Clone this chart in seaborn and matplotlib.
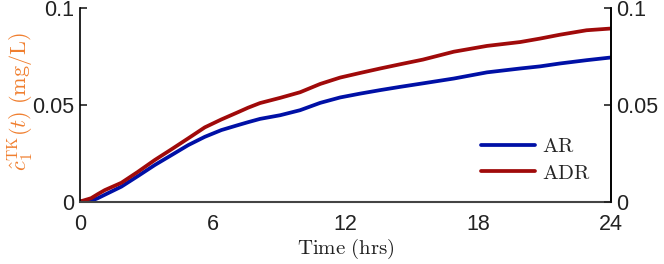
import matplotlib
matplotlib.use("Agg")
import matplotlib.pyplot as plt
import seaborn as sns
import pandas as pd

t = [0, 0.5, 0.8, 1.12, 1.87, 2.62, 3.38, 4.13, 4.89, 5.64, 6.39, 7.15, 7.6, 8.14, 9.05,
     9.95, 10.86, 11.76, 12.67, 13.57, 14.48, 15.5, 16.9, 18.4, 19.9, 20.8, 21.7, 22.9, 24]
ar = [0, 0.0003, 0.0017, 0.0035, 0.0077, 0.0132, 0.0189, 0.024, 0.0292, 0.0335, 0.037,
      0.0396, 0.0411, 0.0428, 0.0447, 0.0473, 0.0511, 0.0539, 0.0559, 0.0577, 0.0594,
      0.0612, 0.0637, 0.0669, 0.0689, 0.0700, 0.0715, 0.0732, 0.0746]
adr = [0, 0.0017, 0.0038, 0.0059, 0.0097, 0.0154, 0.0215, 0.027, 0.0327, 0.0384, 0.0425,
       0.0463, 0.0486, 0.0510, 0.0537, 0.0566, 0.0609, 0.0642, 0.0666, 0.0689, 0.0711,
       0.0735, 0.0776, 0.0806, 0.0826, 0.0844, 0.0864, 0.0887, 0.0896]
series = ["AR", "ADR"]
xticks = [0, 6, 12, 18, 24]
yticks = [0, 0.05, 0.1]
yticklabels = ["0", "0.05", "0.1"]

df = pd.concat([
    pd.DataFrame({"t": t, "c": ar, "model": "AR"}),
    pd.DataFrame({"t": t, "c": adr, "model": "ADR"}),
])

sns.set_style("white")
plt.rcParams["font.family"] = ["Liberation Sans", "DejaVu Sans"]
plt.rcParams["mathtext.fontset"] = "cm"

fig = plt.figure(figsize=(6.64, 2.64), dpi=100)
ax = fig.add_axes([0.1205, 0.2367, 0.7995, 0.7313])
sns.lineplot(data=df, x="t", y="c", hue="model", hue_order=series,
             palette={"AR": "#0010a6", "ADR": "#a00a0a"}, linewidth=2.7, ax=ax)

ax.set_xlim(0, 24)
ax.set_ylim(0, 0.1)
ax.set_xticks(xticks)
ax.set_xticklabels([str(v) for v in xticks])
ax.set_yticks(yticks)
ax.set_yticklabels(yticklabels)
ax.tick_params(axis="both", direction="in", length=5, width=1.2, labelsize=15.5,
               colors="#222222", pad=4)
ax.tick_params(axis="x", colors="#444444", labelcolor="#222222", pad=9)
ax.set_xlabel(r"$\mathrm{Time\ (hrs)}$", fontsize=15, color="#222222", labelpad=1)
ax.set_ylabel(r"$\hat{c}_1^{\mathrm{TK}}(t)\ \mathrm{(mg/L)}$", fontsize=16,
              color="#f07f2f")
ax.yaxis.set_label_coords(-0.083, 0.52)

for s in ["left", "right"]:
    ax.spines[s].set_color("black")
    ax.spines[s].set_linewidth(1.2)
ax.spines["bottom"].set_color("#444444")
ax.spines["bottom"].set_linewidth(1.5)
ax.spines["top"].set_visible(False)

ax2 = ax.twinx()
ax2.set_ylim(0, 0.1)
ax2.set_yticks(yticks)
ax2.set_yticklabels(yticklabels)
ax2.tick_params(axis="y", direction="in", length=5, width=1.2, labelsize=15.5,
                colors="#222222", pad=4)
for s in ["top", "bottom", "left"]:
    ax2.spines[s].set_visible(False)
ax2.spines["right"].set_color("black")
ax2.spines["right"].set_linewidth(1.2)

handles, labels = ax.get_legend_handles_labels()
leg = ax.legend(handles, [r"$\mathrm{AR}$", r"$\mathrm{ADR}$"], loc="lower right",
                bbox_to_anchor=(0.998, 0.0), frameon=False, fontsize=15,
                handlelength=2.6, handletextpad=0.35, labelspacing=0.35)
for line in leg.get_lines():
    line.set_linewidth(2.7)

fig.savefig("out.png", dpi=100)
